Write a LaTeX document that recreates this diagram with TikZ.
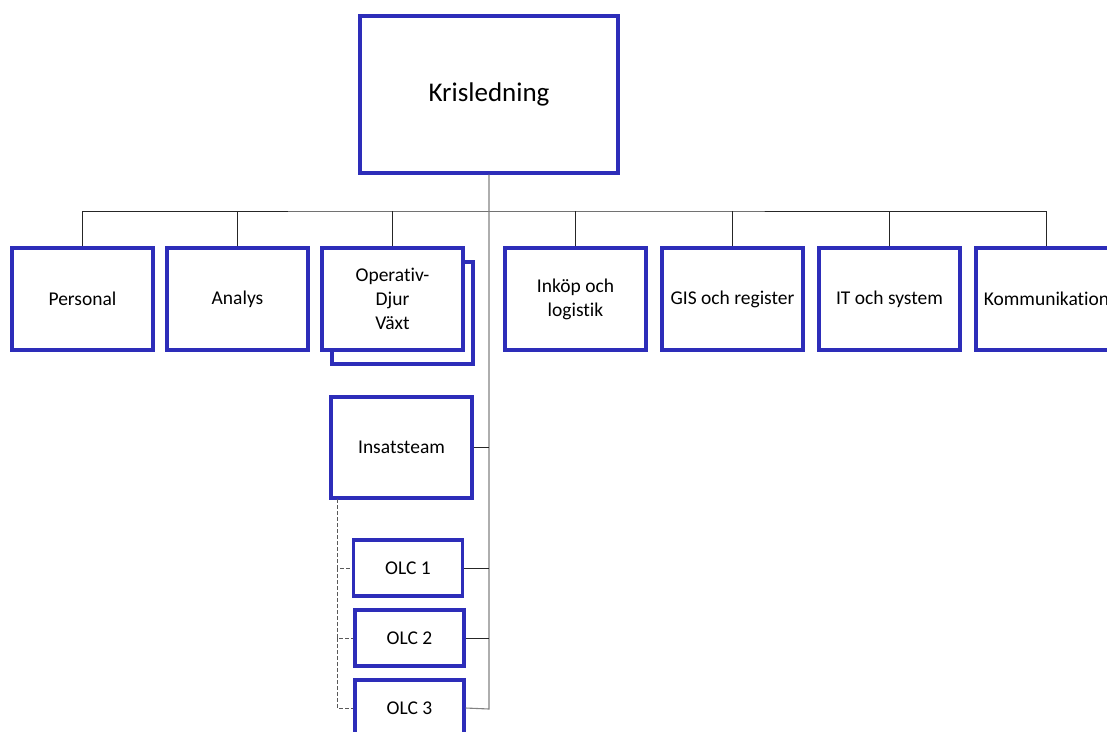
\documentclass[tikz,border=0pt]{standalone}
\usepackage{fontspec}
\setmainfont[RawFeature=-liga]{Carlito}
\definecolor{boxblue}{RGB}{45,45,185}
\definecolor{trunkgray}{RGB}{130,130,130}
\begin{document}
\begin{tikzpicture}[x=1pt,y=-1pt,
  orgbox/.style={draw=boxblue,line width=3.2pt,fill=white,minimum width=141pt,minimum height=102pt,inner sep=0pt,align=center,font=\fontsize{19.5}{24}\selectfont},
  olcbox/.style={orgbox,minimum width=109pt,minimum height=56pt},
  link/.style={draw=black!85,line width=0.7pt},
  trunk/.style={draw=trunkgray,line width=1.1pt},
  dlink/.style={draw=black!65,line width=0.7pt,dash pattern=on 4pt off 2pt}]
\useasboundingbox (0,0) rectangle (1107,731);
\clip (0,0) rectangle (1107,731);
% top
\node[orgbox,minimum width=258pt,minimum height=157pt,font=\fontsize{27}{32}\selectfont] (kris) at (489,94.5) {\raisebox{-3pt}{Krisledning}};
% row
\node[orgbox] (pers) at (82.5,299) {\raisebox{-2pt}{Personal}};
\node[orgbox] (anal) at (237.5,299) {\raisebox{-2pt}{Analys}};
\node[orgbox] (opshadow) at (402.5,313) {};
\node[orgbox] (oper) at (392.5,299) {Operativ-\\Djur\\Växt};
\node[orgbox] (inkop) at (575.5,299) {Inköp och\\logistik};
\node[orgbox] (gis) at (732.5,299) {\raisebox{-2pt}{GIS och register}};
\node[orgbox] (it) at (889.5,299) {\raisebox{-2pt}{IT och system}};
\node[orgbox] (komm) at (1046.5,299) {\raisebox{-2pt}{Kommunikation}};
% lower
\node[orgbox,minimum height=101pt] (ins) at (401.5,447.5) {\raisebox{-2pt}{Insatsteam}};
\node[olcbox] (olc1) at (408,568) {OLC 1};
\node[olcbox] (olc2) at (409.5,638) {OLC 2};
\node[olcbox] (olc3) at (409.5,708) {OLC 3};
% connectors
\coordinate (bar) at (489,211);
\coordinate (trunkend) at (489,709);
\draw[link] (pers.north) |- (bar) -| (komm.north);
\foreach \n in {anal,oper,inkop,gis,it}{
  \draw[link] (\n.north) -- (\n.north |- bar);
}
\draw[trunk] (kris.south) -- (trunkend) -- (olc3.east);
\draw[link] (ins.east) -- (ins.east -| trunkend);
\draw[link] (olc1.east) -- (olc1.east -| trunkend);
\draw[link] (olc2.east) -- (olc2.east -| trunkend);
\coordinate (dtop) at (337,499);
\draw[dlink] (dtop) |- (olc1.west);
\draw[dlink] (dtop |- olc1.west) |- (olc2.west);
\draw[dlink] (dtop |- olc2.west) |- (olc3.west);
\end{tikzpicture}
\end{document}
